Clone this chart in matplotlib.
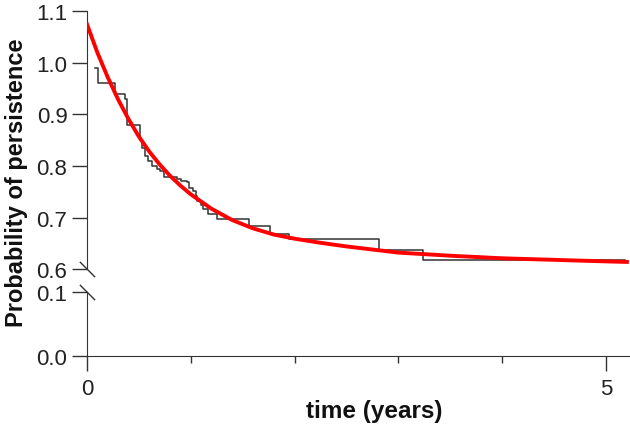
import numpy as np
import matplotlib
matplotlib.use("Agg")
import matplotlib.pyplot as plt

plt.rcParams['font.family'] = ['Liberation Sans', 'DejaVu Sans']

# Kaplan-Meier style steps: time of drop and value from that time on
km_t = [0.08, 0.11, 0.27, 0.37, 0.39, 0.51, 0.53, 0.56, 0.59, 0.63, 0.67, 0.70,
        0.74, 0.87, 0.91, 0.96, 0.98, 1.02, 1.05, 1.06, 1.10, 1.12, 1.17, 1.25,
        1.56, 1.76, 1.95, 2.81, 3.24, 5.18]
km_v = [0.990, 0.960, 0.940, 0.930, 0.880, 0.850, 0.835, 0.820, 0.810, 0.800, 0.795, 0.790,
        0.778, 0.775, 0.771, 0.768, 0.758, 0.752, 0.742, 0.732, 0.725, 0.716, 0.707, 0.698,
        0.683, 0.668, 0.658, 0.637, 0.617, 0.617]

# fitted decay curve
fit_t = [0, 0.1, 0.2, 0.3, 0.4, 0.5, 0.6, 0.7, 0.8, 0.9, 1.0, 1.2, 1.4, 1.6, 1.8,
         2.0, 2.25, 2.5, 2.75, 3.0, 3.5, 4.0, 4.5, 5.0, 5.2]
fit_v = [1.075, 1.020, 0.972, 0.929, 0.891, 0.857, 0.828, 0.803, 0.781, 0.762, 0.745,
         0.717, 0.695, 0.679, 0.667, 0.659, 0.651, 0.644, 0.638, 0.632, 0.626, 0.621,
         0.618, 0.615, 0.614]

fig = plt.figure(figsize=(6.3, 4.35), dpi=100)
ax_top = fig.add_axes([0.138, 0.379, 0.862, 0.593])
ax_bot = fig.add_axes([0.138, 0.179, 0.862, 0.147])

xmax = 5.23
for ax in (ax_top, ax_bot):
    ax.set_xlim(0, xmax)
    for s in ('top', 'right'):
        ax.spines[s].set_visible(False)
    ax.spines['left'].set_color('#333333')
    ax.spines['bottom'].set_color('#333333')
    ax.tick_params(axis='y', direction='out', length=11, width=1, colors='#333333',
                   labelsize=16, labelcolor='#222222', pad=3)

ax_top.step(km_t, km_v, where='post', color='#333333', lw=1.1, zorder=2)
ax_top.plot(fit_t, fit_v, color='#ff0000', lw=2.8, zorder=3)
ax_top.set_ylim(0.6, 1.1)
ax_top.set_yticks([0.6, 0.7, 0.8, 0.9, 1.0, 1.1])
ax_top.set_yticklabels(['0.6', '0.7', '0.8', '0.9', '1.0', '1.1'])
ax_top.spines['bottom'].set_visible(False)
ax_top.set_xticks([])

ax_bot.set_ylim(0.0, 0.1)
ax_bot.set_yticks([0.0, 0.1])
ax_bot.set_yticklabels(['0.0', '0.1'])
ax_bot.set_xticks([0, 5])
ax_bot.set_xticklabels(['0', '5'])
ax_bot.set_xticks([1, 2, 3, 4], minor=True)
ax_bot.tick_params(axis='x', which='major', direction='out', length=11, width=1,
                   colors='#333333', labelsize=16, labelcolor='#222222', pad=5)
ax_bot.tick_params(axis='x', which='minor', direction='out', length=5, width=1,
                   colors='#333333')

# axis break marks
brk = [(-1, 1), (1, -1)]
ax_top.plot([0], [0.6], marker=brk, ms=11, mew=1, color='#333333', clip_on=False)
ax_bot.plot([0], [0.1], marker=brk, ms=11, mew=1, color='#333333', clip_on=False)

fig.text(0.026, 0.579, 'Probability of persistence', rotation=90, ha='center', va='center',
         fontsize=17, fontweight='bold', color='#111111')
fig.text(0.594, 0.053, 'time (years)', ha='center', va='center',
         fontsize=17.5, fontweight='bold', color='#111111')

fig.savefig('out.png', dpi=100)
